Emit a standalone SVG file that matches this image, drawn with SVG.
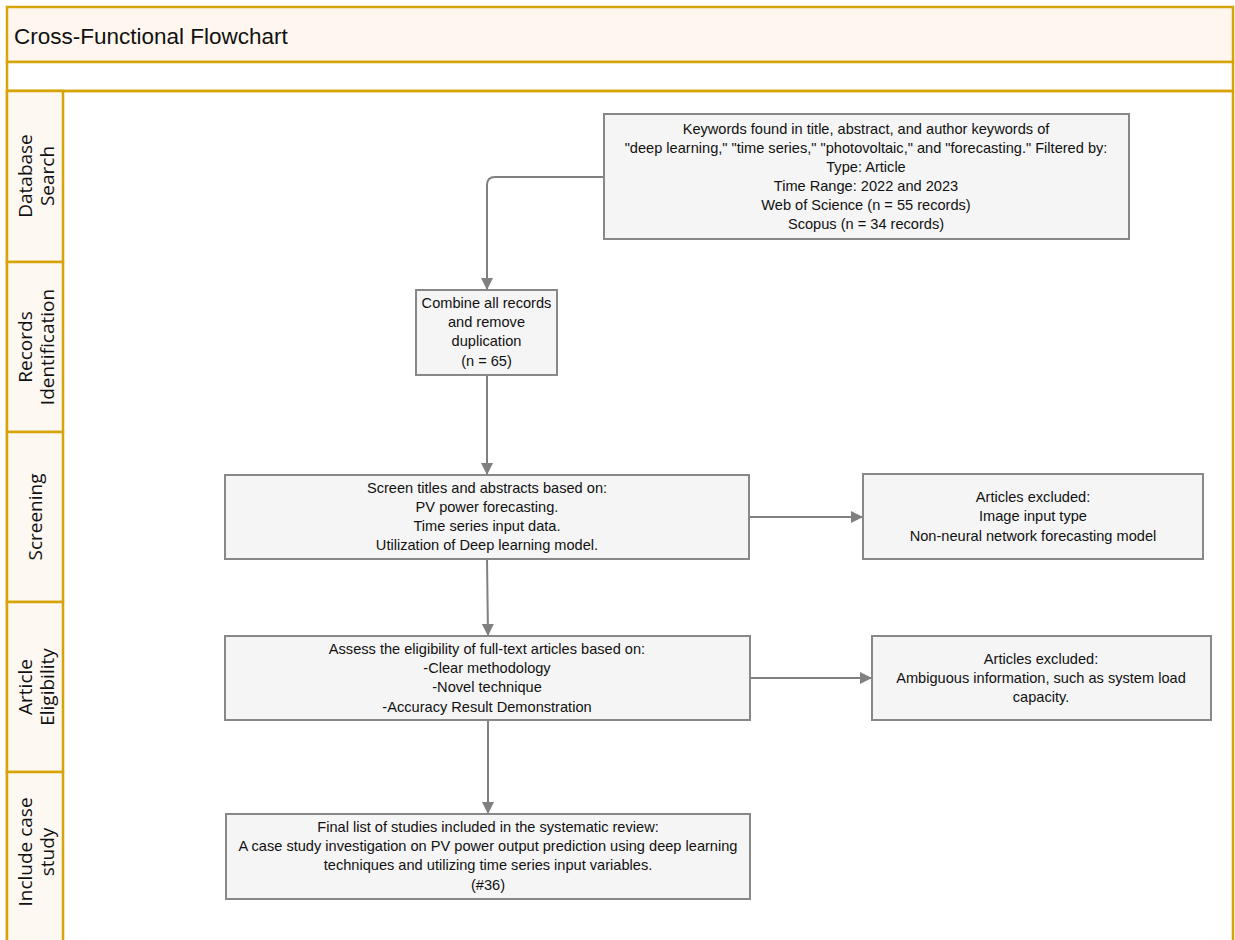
<svg xmlns="http://www.w3.org/2000/svg" width="1235" height="940" viewBox="0 0 1235 940">
  <style>
    .frame { fill: none; stroke: #D6A308; stroke-width: 2.5; }
    .band { fill: #FFF7EF; stroke: #D6A308; stroke-width: 2.5; }
    .lane { fill: #FEF8F2; stroke: #D6A308; stroke-width: 2.5; }
    .lanetxt { font-family: "Open Sans", "Noto Sans", sans-serif; font-size: 19px; fill: #111; text-anchor: middle; }
    .title { font-family: "Liberation Sans", Arial, sans-serif; font-size: 22.5px; fill: #111; }
    .box { fill: #F5F5F5; stroke: #888888; stroke-width: 2; }
    .txt { font-family: "Liberation Sans", Arial, sans-serif; font-size: 14.6px; fill: #111; text-anchor: middle; }
    .edge { fill: none; stroke: #808080; stroke-width: 2; }
  </style>
  <defs>
    <marker id="arrow" viewBox="0 0 12 12" refX="11" refY="6" markerWidth="12" markerHeight="12" markerUnits="userSpaceOnUse" orient="auto">
      <path d="M0,0 L12,6 L0,12 Z" fill="#808080"/>
    </marker>
  </defs>

  <rect width="1235" height="940" fill="#FFFFFF"/>

  <!-- pool header -->
  <g id="pool-header">
    <rect class="band" x="7" y="7" width="1226" height="55"/>
    <text class="title" x="14" y="44">Cross-Functional Flowchart</text>
    <rect x="7" y="62" width="1226" height="29" fill="#FFFFFF" stroke="#D6A308" stroke-width="2.5"/>
    <path class="frame" d="M7,91 V945 M1233,91 V945 M7,91 H1233"/>
  </g>

  <!-- swimlane labels -->
  <g id="lane-database-search">
    <rect class="lane" x="7" y="91" width="56" height="171"/>
    <text class="lanetxt" transform="translate(32,176) rotate(-90)">Database</text>
    <text class="lanetxt" transform="translate(54,176) rotate(-90)">Search</text>
  </g>
  <g id="lane-records-identification">
    <rect class="lane" x="7" y="262" width="56" height="170"/>
    <text class="lanetxt" transform="translate(32,347) rotate(-90)">Records</text>
    <text class="lanetxt" transform="translate(54,347) rotate(-90)">Identification</text>
  </g>
  <g id="lane-screening">
    <rect class="lane" x="7" y="432" width="56" height="170"/>
    <text class="lanetxt" transform="translate(42,517) rotate(-90)">Screening</text>
  </g>
  <g id="lane-article-eligibility">
    <rect class="lane" x="7" y="602" width="56" height="170"/>
    <text class="lanetxt" transform="translate(32,687) rotate(-90)">Article</text>
    <text class="lanetxt" transform="translate(54,687) rotate(-90)">Eligibility</text>
  </g>
  <g id="lane-include-case-study">
    <rect class="lane" x="7" y="772" width="56" height="175"/>
    <text class="lanetxt" transform="translate(32,852) rotate(-90)">Include case</text>
    <text class="lanetxt" transform="translate(54,852) rotate(-90)">study</text>
  </g>

  <!-- connectors -->
  <g id="connectors">
    <path class="edge" d="M604,177 H495 Q487,177 487,185 V289" marker-end="url(#arrow)"/>
    <path class="edge" d="M487,375 V474" marker-end="url(#arrow)"/>
    <path class="edge" d="M487,559 L488,635" marker-end="url(#arrow)"/>
    <path class="edge" d="M749,517 H862" marker-end="url(#arrow)"/>
    <path class="edge" d="M750,678 H871" marker-end="url(#arrow)"/>
    <path class="edge" d="M488,720 V813" marker-end="url(#arrow)"/>
  </g>

  <!-- process nodes -->
  <g id="node-search">
    <rect class="box" x="604" y="114" width="525" height="125"/>
    <text class="txt" x="866" y="134">Keywords found in title, abstract, and author keywords of</text>
    <text class="txt" x="866" y="153">"deep learning,"  "time series,"  "photovoltaic,"  and "forecasting." Filtered by:</text>
    <text class="txt" x="866" y="172">Type: Article</text>
    <text class="txt" x="866" y="191">Time Range: 2022 and 2023</text>
    <text class="txt" x="866" y="210">Web of Science (n = 55 records)</text>
    <text class="txt" x="866" y="229">Scopus (n = 34 records)</text>
  </g>
  <g id="node-combine">
    <rect class="box" x="416" y="290" width="141" height="85"/>
    <text class="txt" x="486.5" y="308">Combine all records</text>
    <text class="txt" x="486.5" y="327">and remove</text>
    <text class="txt" x="486.5" y="346">duplication</text>
    <text class="txt" x="486.5" y="366">(n = 65)</text>
  </g>
  <g id="node-screen">
    <rect class="box" x="225" y="475" width="524" height="84"/>
    <text class="txt" x="487" y="493">Screen titles and abstracts based on:</text>
    <text class="txt" x="487" y="512">PV power forecasting.</text>
    <text class="txt" x="487" y="531">Time series input data.</text>
    <text class="txt" x="487" y="550">Utilization of Deep learning model.</text>
  </g>
  <g id="node-excluded-screen">
    <rect class="box" x="863" y="474" width="340" height="85"/>
    <text class="txt" x="1033" y="502">Articles excluded:</text>
    <text class="txt" x="1033" y="521">Image input type</text>
    <text class="txt" x="1033" y="541">Non-neural network forecasting model</text>
  </g>
  <g id="node-eligibility">
    <rect class="box" x="225" y="636" width="525" height="84"/>
    <text class="txt" x="487" y="654">Assess the eligibility of full-text articles based on:</text>
    <text class="txt" x="487" y="673">-Clear methodology</text>
    <text class="txt" x="487" y="692">-Novel technique</text>
    <text class="txt" x="487" y="712">-Accuracy Result Demonstration</text>
  </g>
  <g id="node-excluded-eligibility">
    <rect class="box" x="872" y="636" width="339" height="84"/>
    <text class="txt" x="1041" y="664">Articles excluded:</text>
    <text class="txt" x="1041" y="683">Ambiguous information, such as system load</text>
    <text class="txt" x="1041" y="702">capacity.</text>
  </g>
  <g id="node-final">
    <rect class="box" x="226" y="814" width="524" height="85"/>
    <text class="txt" x="488" y="832">Final list of studies included in the systematic review:</text>
    <text class="txt" x="488" y="851">A case study investigation on PV power output prediction using deep learning</text>
    <text class="txt" x="488" y="870">techniques and utilizing time series input variables.</text>
    <text class="txt" x="488" y="890">(#36)</text>
  </g>
</svg>
